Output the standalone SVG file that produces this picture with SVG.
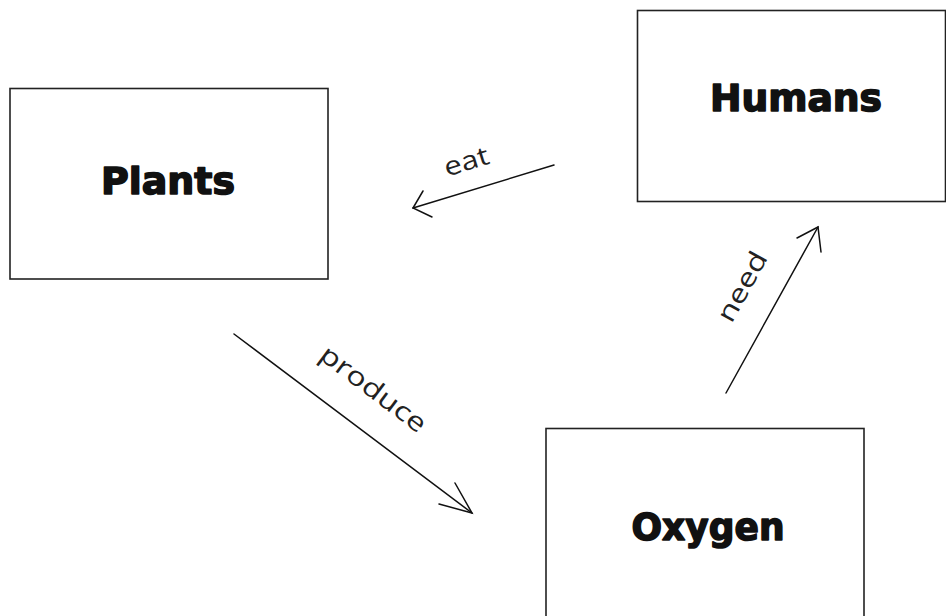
<svg xmlns="http://www.w3.org/2000/svg" width="946" height="616" viewBox="0 0 946 616">
<style>
.box{fill:#fff;stroke:#222;stroke-width:1.6}
.title{font-family:"DejaVu Sans",sans-serif;font-weight:bold;font-size:38px;fill:#111;stroke:#111;stroke-width:1.6;stroke-linejoin:round;text-anchor:middle}
.conn{fill:none;stroke:#111;stroke-width:1.5;stroke-linecap:round;stroke-linejoin:miter}
.lbl{font-family:"Open Sans","DejaVu Sans",sans-serif;font-size:26px;fill:#222;text-anchor:middle}
</style>
<rect width="946" height="616" fill="#fff"/>
<g id="plants">
<rect class="box" x="10" y="88.5" width="318" height="190.5"/>
<text class="title" x="168" y="194" textLength="134" lengthAdjust="spacingAndGlyphs">Plants</text>
</g>
<g id="humans">
<rect class="box" x="637.5" y="10.5" width="308" height="191"/>
<text class="title" x="796" y="111" textLength="172" lengthAdjust="spacingAndGlyphs">Humans</text>
</g>
<g id="oxygen">
<rect class="box" x="546" y="428.5" width="318" height="200"/>
<text class="title" x="708" y="540" textLength="153" lengthAdjust="spacingAndGlyphs">Oxygen</text>
</g>
<g id="connectors">
<path class="conn" d="M554,165 L413,208"/>
<path class="conn" d="M423,191 L413,208 L432,217"/>
<path class="conn" d="M234,334 L472,513"/>
<path class="conn" d="M455,483 L472,513 L439,504"/>
<path class="conn" d="M726,393 L818,227"/>
<path class="conn" d="M797,238 L818,227 L821,252"/>
<text class="lbl" transform="translate(469,170) rotate(-17)" textLength="46" lengthAdjust="spacingAndGlyphs">eat</text>
<text class="lbl" transform="translate(368,396) rotate(37)" textLength="126" lengthAdjust="spacingAndGlyphs">produce</text>
<text class="lbl" transform="translate(750,291) rotate(-61)" textLength="76" lengthAdjust="spacingAndGlyphs">need</text>
</g>
</svg>
